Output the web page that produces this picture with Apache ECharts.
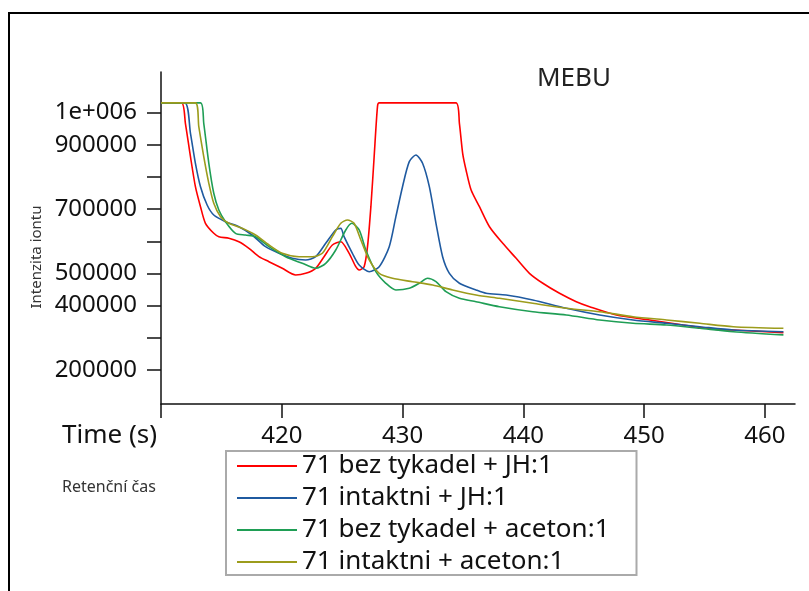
<!DOCTYPE html>
<html>
<head>
<meta charset="utf-8">
<script src="https://cdn.jsdelivr.net/npm/echarts@6/dist/echarts.min.js"></script>
<style>
  html, body { margin: 0; padding: 0; background: #fff; }
  #chart { width: 809px; height: 591px; }
</style>
</head>
<body>
<div id="chart"></div>
<script>
const seriesNames = ['71 bez tykadel + JH:1', '71 intaktni + JH:1', '71 bez tykadel + aceton:1', '71 intaktni + aceton:1'];
const seriesColors = ['#ff0000', '#1f5aa0', '#1f9e55', '#9c9c1c'];

const xTicks = [410, 420, 430, 440, 450, 460];
const xLabels = [420, 430, 440, 450, 460];
const yTicks = [200000, 300000, 400000, 500000, 600000, 700000, 800000, 900000, 1000000];
const yLabels = [200000, 400000, 500000, 700000, 900000, 1000000];

const redData = [[410,1030000],[411.7,1030000],[412.02,966400],[412.44,862700],[412.85,769500],[413.27,707400],[413.68,655800],[414.37,624700],[414.79,614200],[415.62,609200],[416.45,598600],[417.28,578100],[418.11,552000],[418.94,536500],[420.04,516000],[421.15,495200],[421.98,500400],[422.81,516000],[423.5,552000],[424.19,588400],[424.89,598600],[425.58,562600],[426.13,521000],[426.41,510700],[426.82,521000],[427.1,583100],[427.38,707400],[427.65,862700],[427.93,1020000],[428.07,1030000],[434.43,1030000],[434.71,966400],[434.98,873300],[435.26,821400],[435.68,759200],[436.37,707400],[437.2,645200],[438.3,593600],[439.41,547000],[440.51,500400],[441.62,469400],[443.0,438300],[444.39,412200],[445.49,396700],[447.71,370900],[450.47,355400],[453.24,339800],[456.01,326000],[457.39,324300],[461.54,316000]];
const blueData = [[410,1030000],[411.97,1030000],[412.44,935400],[412.85,842200],[413.27,769500],[413.82,712600],[414.37,681600],[415.34,660800],[416.45,645200],[417.55,619400],[418.66,583100],[419.77,562600],[420.87,547000],[421.98,541800],[422.81,552000],[423.64,593600],[424.47,635000],[424.89,640000],[425.16,614200],[425.85,562600],[426.41,526200],[427.24,505400],[428.07,521000],[428.9,583100],[429.45,676300],[430.0,769500],[430.56,847200],[431.11,867900],[431.66,842200],[432.22,769500],[432.77,655800],[433.32,552000],[433.88,500400],[434.71,469400],[436.09,448600],[436.92,438300],[438.58,433000],[440.79,417500],[443.56,391700],[446.32,370900],[449.09,355400],[451.86,345100],[454.62,334600],[457.39,324300],[461.54,319000]];
const greenData = [[410,1030000],[413.27,1030000],[413.54,966400],[413.96,842200],[414.37,749000],[414.79,697100],[415.34,660800],[416.17,624700],[417.0,619400],[417.83,614200],[418.94,583100],[420.32,552000],[421.7,531500],[422.81,516000],[423.64,531500],[424.47,572800],[425.3,635000],[425.8,655800],[426.41,635000],[426.96,572800],[427.79,505400],[428.62,469400],[429.45,448600],[430.56,453900],[431.39,469400],[432.07,484900],[432.77,474400],[433.6,443300],[434.71,422800],[436.09,412200],[438.02,396700],[440.79,381200],[443.56,370900],[446.32,355400],[449.09,345100],[451.86,339800],[454.62,329600],[457.39,319000],[461.54,309000]];
const oliveData = [[410,1030000],[412.85,1030000],[413.13,955900],[413.54,862700],[413.96,780000],[414.37,717900],[414.93,676300],[415.62,655800],[416.72,640300],[417.83,619400],[418.94,588400],[420.04,562600],[421.43,552000],[422.53,552000],[423.36,562600],[424.19,614200],[424.89,655800],[425.44,666000],[425.99,655800],[426.55,603900],[427.24,541800],[428.07,500400],[429.17,484900],[430.83,474400],[432.49,464100],[434.15,448600],[436.09,433000],[438.02,422800],[440.79,407200],[443.56,391700],[446.32,381200],[449.09,365600],[451.86,355400],[454.62,345100],[457.39,334600],[461.54,329600]];

const allData = [redData, blueData, greenData, oliveData];
const FONT = '"Noto Sans", sans-serif';

const chart = echarts.init(document.getElementById('chart'), null, { renderer: 'canvas' });
chart.setOption({
  animation: false,
  backgroundColor: '#fff',
  graphic: [
    { type: 'polyline', shape: { points: [[9, 591], [9, 13], [809, 13]] }, style: { stroke: '#000', lineWidth: 2, fill: null } },
    { type: 'text', x: 574, y: 79, style: { text: 'MEBU', font: '26px ' + FONT, fill: '#222', align: 'center', verticalAlign: 'middle' } },
    { type: 'text', x: 157, y: 436, style: { text: 'Time (s)', font: '26px ' + FONT, fill: '#111', align: 'right', verticalAlign: 'middle' } },
    { type: 'text', x: 62, y: 487, style: { text: 'Retenční čas', font: '16px ' + FONT, fill: '#333', align: 'left', verticalAlign: 'middle' } },
    { type: 'text', x: 37, y: 257, rotation: Math.PI / 2, style: { text: 'Intenzita iontu', font: '15px ' + FONT, fill: '#333', align: 'center', verticalAlign: 'middle' } }
  ],
  grid: { left: 161, top: 72, right: 14, bottom: 187, containLabel: false },
  legend: {
    orient: 'vertical',
    left: 226, top: 451,
    data: seriesNames,
    icon: 'rect',
    itemWidth: 60, itemHeight: 2,
    itemGap: 6,
    padding: [2, 27, 0, 11],
    borderColor: '#aaaaaa', borderWidth: 2,
    textStyle: { fontFamily: FONT, fontSize: 26, color: '#111', lineHeight: 25 }
  },
  xAxis: {
    type: 'value', min: 410, max: 462.5, interval: 10,
    axisLine: { show: true, onZero: false, lineStyle: { color: '#111', width: 1.5 } },
    axisTick: { show: true, inside: false, length: 14, customValues: xTicks, lineStyle: { color: '#111', width: 1.5 } },
    axisLabel: { customValues: xLabels, margin: 20, fontFamily: FONT, fontSize: 24, color: '#111' },
    splitLine: { show: false }
  },
  yAxis: {
    type: 'value', min: 94400, max: 1125800,
    axisLine: { show: true, onZero: false, lineStyle: { color: '#111', width: 1.5 } },
    axisTick: { show: true, inside: false, length: 14, customValues: yTicks, lineStyle: { color: '#111', width: 1.5 } },
    axisLabel: {
      customValues: yLabels, margin: 24, fontFamily: FONT, fontSize: 24, color: '#111',
      formatter: function (v) { return v === 1000000 ? '1e+006' : String(v); }
    },
    splitLine: { show: false }
  },
  series: seriesNames.map(function (name, i) {
    return {
      name: name, type: 'line', data: allData[i],
      showSymbol: false, symbol: 'none', smooth: 0.25,
      lineStyle: { color: seriesColors[i], width: 1.6 },
      itemStyle: { color: seriesColors[i] },
      emphasis: { disabled: true }
    };
  })
});
</script>
</body>
</html>
